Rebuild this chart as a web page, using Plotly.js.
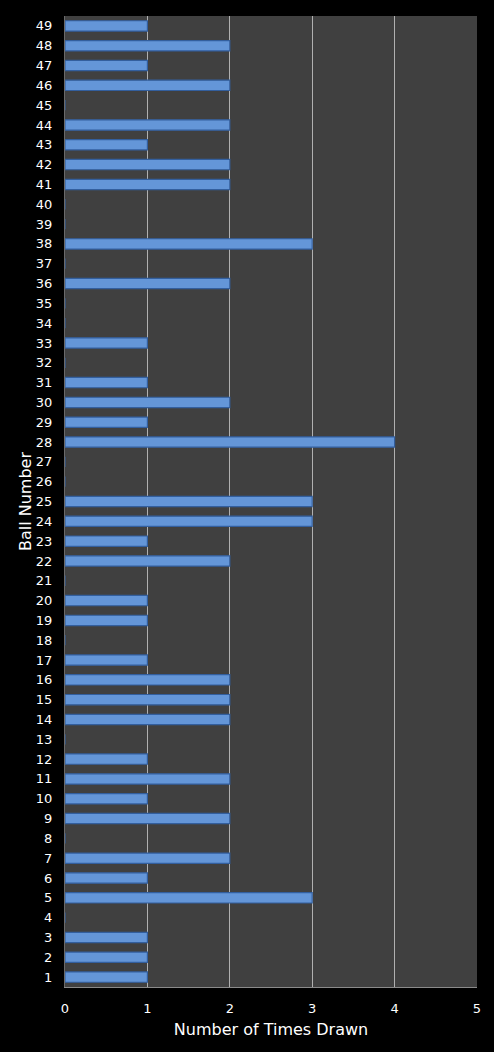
<!DOCTYPE html>
<html>
<head>
<meta charset="utf-8">
<script src="https://cdn.plot.ly/plotly-3.0.1.min.js"></script>
<style>html,body{margin:0;padding:0;background:#000;}#chart{width:494px;height:1052px;}</style>
</head>
<body>
<div id="chart"></div>
<script>
const ballNumbers = [1,2,3,4,5,6,7,8,9,10,11,12,13,14,15,16,17,18,19,20,21,22,23,24,25,26,27,28,29,30,31,32,33,34,35,36,37,38,39,40,41,42,43,44,45,46,47,48,49];
const timesDrawn = [1,1,1,0,3,1,2,0,2,1,2,1,0,2,2,2,1,0,1,1,0,2,1,3,3,0,0,4,1,2,1,0,1,0,0,2,0,3,0,0,2,2,1,2,0,2,1,2,1];
const xTicks = [0,1,2,3,4,5];

const font = "DejaVu Sans, Verdana, sans-serif";
Plotly.newPlot('chart', [{
  type: 'bar',
  orientation: 'h',
  x: timesDrawn,
  y: ballNumbers.map(String),
  marker: {color: '#6496d8', line: {color: '#335f9e', width: 1.2}},
  hoverinfo: 'x+y'
}], {
  width: 494, height: 1052,
  paper_bgcolor: '#000000',
  plot_bgcolor: '#404040',
  margin: {l: 65, r: 17, t: 16, b: 65},
  bargap: 0.48,
  showlegend: false,
  font: {family: font, color: '#ffffff', size: 13},
  xaxis: {
    range: [0, 5], tickvals: xTicks, ticktext: xTicks.map(String),
    showgrid: true, gridcolor: '#b0b0b0', gridwidth: 1,
    zeroline: false, showline: true, linecolor: '#8a8a8a', linewidth: 1,
    ticks: '', ticklen: 0, ticklabelstandoff: 9,
    tickfont: {family: font, color: '#ffffff', size: 13},
    title: {text: 'Number of Times Drawn', font: {family: font, color: '#ffffff', size: 16}, standoff: 9}
  },
  yaxis: {
    type: 'category',
    categoryorder: 'array', categoryarray: ballNumbers.map(String),
    showgrid: false, zeroline: false, showline: true, linecolor: '#6a6a6a', linewidth: 1,
    ticks: '', ticklen: 0, ticklabelstandoff: 9,
    tickfont: {family: font, color: '#ffffff', size: 13},
    title: {text: 'Ball Number', font: {family: font, color: '#ffffff', size: 16}, standoff: 0}
  }
}, {displayModeBar: false, staticPlot: true});
</script>
</body>
</html>
